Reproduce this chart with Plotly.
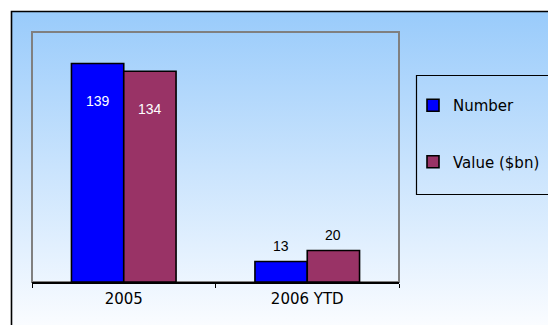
import base64
import plotly.graph_objects as go

# Chart data
categories = ["2005", "2006 YTD"]
series_names = ["Number", "Value ($bn)"]
number_values = [139, 13]
value_values = [134, 20]
series_colors = ["#0000FF", "#993366"]

W, H = 548, 325
M_L, M_R, M_T, M_B = 32, 149, 32, 43
PW, PH = W - M_L - M_R, H - M_T - M_B
BARGAP = 0.43


def px(x):
    """pixel x -> paper x"""
    return (x - M_L) / PW


def py(y):
    """pixel y (from top) -> paper y"""
    return (H - M_B - y) / PH


fig = go.Figure()
for name, vals, col in zip(series_names, [number_values, value_values], series_colors):
    fig.add_trace(go.Bar(
        x=categories, y=vals, name=name, legendgroup=name,
        marker=dict(color=col, line=dict(color="black", width=1.6)),
    ))

# value labels: inside near the top for tall bars, above for short ones
bw = (1 - BARGAP) / 2
annotations = []
for j, vals in enumerate([number_values, value_values]):
    for i, v in enumerate(vals):
        inside = v > 50
        annotations.append(dict(
            x=i + (j - 0.5) * bw, y=v, xref="x", yref="y",
            text=str(v), showarrow=False, yanchor="middle",
            yshift=-38 if inside else 16,
            font=dict(family="Liberation Sans, Arial", size=14,
                      color="white" if inside else "black"),
        ))

# background gradient for the chart area
svg = (
    '<svg xmlns="http://www.w3.org/2000/svg" width="100" height="100" '
    'viewBox="0 0 100 100" preserveAspectRatio="none">'
    '<defs><linearGradient id="g" x1="0" y1="0" x2="0" y2="1">'
    '<stop offset="0" stop-color="#99CBFB"/>'
    '<stop offset="1" stop-color="#FAFCFF"/>'
    '</linearGradient></defs>'
    '<rect width="100" height="100" fill="url(#g)"/></svg>'
)
src = "data:image/svg+xml;base64," + base64.b64encode(svg.encode()).decode()

shapes = [
    # outer chart frame
    dict(type="rect", xref="paper", yref="paper",
         x0=px(11.5), x1=px(W + 20), y0=py(H + 20), y1=py(11.5),
         line=dict(color="black", width=1.6), fillcolor="rgba(0,0,0,0)", layer="above"),
    # plot area border
    dict(type="rect", xref="paper", yref="paper",
         x0=0, x1=1, y0=0, y1=1,
         line=dict(color="#808080", width=2), fillcolor="rgba(0,0,0,0)", layer="below"),
    # legend box
    dict(type="rect", xref="paper", yref="paper",
         x0=px(416.5), x1=px(W + 20), y0=py(194.5), y1=py(75.5),
         line=dict(color="black", width=1.2), fillcolor="rgba(0,0,0,0)", layer="above"),
]

fig.update_layout(
    width=W, height=H,
    margin=dict(l=M_L, r=M_R, t=M_T, b=M_B, pad=0, autoexpand=False),
    paper_bgcolor="white", plot_bgcolor="rgba(0,0,0,0)",
    barmode="group", bargap=BARGAP, bargroupgap=0,
    font=dict(family="DejaVu Sans, Arial", size=15, color="black"),
    showlegend=True,
    legend=dict(
        x=px(413), y=py(89), xanchor="left", yanchor="top",
        bgcolor="rgba(0,0,0,0)", borderwidth=0,
        font=dict(family="DejaVu Sans, Arial", size=15, color="black"),
        tracegroupgap=34, itemwidth=30,
    ),
    images=[dict(source=src, xref="paper", yref="paper",
                 x=px(11.5), y=py(11.5), sizex=(W - 11.5) / PW, sizey=(H - 11.5) / PH,
                 xanchor="left", yanchor="top", sizing="stretch", layer="below")],
    shapes=shapes,
    annotations=annotations,
    xaxis=dict(
        type="category", showline=True, linecolor="black", linewidth=1.5,
        ticks="outside", tickson="boundaries", ticklen=4, tickcolor="black", tickwidth=1.2,
        ticklabelstandoff=2,
        showgrid=False, tickfont=dict(family="DejaVu Sans, Arial", size=15),
    ),
    yaxis=dict(range=[0, 159], showticklabels=False, showgrid=False,
               zeroline=False, showline=False, ticks=""),
)

fig.write_html("out.html")
